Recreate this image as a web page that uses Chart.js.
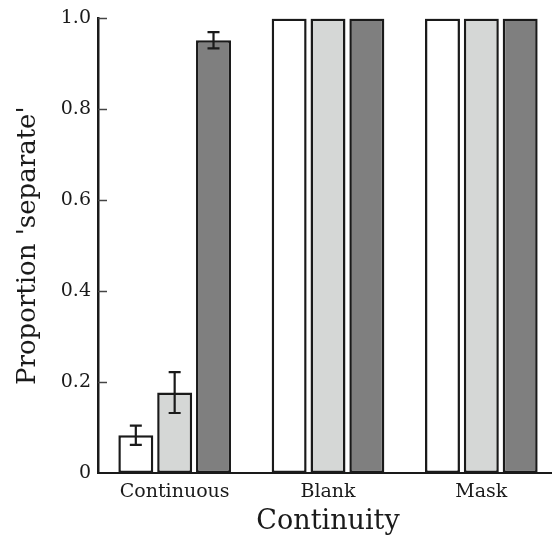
<!DOCTYPE html>
<html>
<head>
<meta charset="utf-8">
<script src="https://cdn.jsdelivr.net/npm/chart.js@4"></script>
<style>
  html, body { margin: 0; padding: 0; background: #fff; overflow: hidden; }
  #wrap { position: relative; width: 558px; height: 538px; }
</style>
</head>
<body>
<div id="wrap"><canvas id="c"></canvas></div>
<script>
// Continuity conditions and the proportion of 'separate' responses
const categories = ['Continuous', 'Blank', 'Mask'];
const seriesA = [0.083, 1.0, 1.0];
const seriesB = [0.177, 1.0, 1.0];
const seriesC = [0.952, 1.0, 1.0];
// error bar half-widths (standard error)
const errA = [0.021, null, null];
const errB = [0.045, null, null];
const errC = [0.018, null, null];
const yTicks = [0, 0.2, 0.4, 0.6, 0.8, 1.0];

const fontFamily = '"DejaVu Serif", serif';

const errorBars = {
  id: 'errorBars',
  afterDatasetsDraw(chart) {
    const ctx = chart.ctx;
    const y = chart.scales.y;
    const errs = [errA, errB, errC];
    ctx.save();
    ctx.strokeStyle = '#1a1a1a';
    ctx.lineWidth = 2.2;
    chart.data.datasets.forEach((ds, di) => {
      const meta = chart.getDatasetMeta(di);
      meta.data.forEach((bar, i) => {
        const e = errs[di][i];
        if (e == null) return;
        const v = ds.data[i];
        const x = bar.x;
        const yt = y.getPixelForValue(v + e);
        const yb = y.getPixelForValue(v - e);
        const cap = 6;
        ctx.beginPath();
        ctx.moveTo(x, yt); ctx.lineTo(x, yb);
        ctx.moveTo(x - cap, yt); ctx.lineTo(x + cap, yt);
        ctx.moveTo(x - cap, yb); ctx.lineTo(x + cap, yb);
        ctx.stroke();
      });
    });
    ctx.restore();
  }
};

// short inward tick marks on the value axis
const innerTicks = {
  id: 'innerTicks',
  afterDraw(chart) {
    const ctx = chart.ctx;
    const y = chart.scales.y;
    const left = chart.chartArea.left;
    ctx.save();
    ctx.strokeStyle = '#444';
    ctx.lineWidth = 1.5;
    yTicks.forEach(t => {
      if (t === 0) return;
      const py = Math.round(y.getPixelForValue(t)) + 0.5;
      ctx.beginPath();
      ctx.moveTo(left, py);
      ctx.lineTo(left + 9, py);
      ctx.stroke();
    });
    ctx.restore();
  }
};

const barStyle = { borderColor: '#1a1a1a', borderWidth: 2.5, borderSkipped: false };

new Chart(document.getElementById('c'), {
  type: 'bar',
  data: {
    labels: categories,
    datasets: [
      Object.assign({ data: seriesA, backgroundColor: '#ffffff' }, barStyle),
      Object.assign({ data: seriesB, backgroundColor: '#d5d7d6' }, barStyle),
      Object.assign({ data: seriesC, backgroundColor: '#7f7f7f' }, barStyle)
    ]
  },
  options: {
    responsive: true,
    maintainAspectRatio: false,
    animation: false,
    datasets: { bar: { categoryPercentage: 0.76, barPercentage: 0.9 } },
    layout: { padding: { top: 18, right: 0, left: 0, bottom: 0 } },
    plugins: { legend: { display: false }, tooltip: { enabled: false } },
    scales: {
      x: {
        offset: true,
        grid: { display: false, drawTicks: false },
        border: { display: true, color: '#1a1a1a', width: 2 },
        ticks: { color: '#1a1a1a', padding: 8, font: { family: fontFamily, size: 19 } },
        title: { display: true, text: 'Continuity', color: '#1a1a1a', padding: { top: 0, bottom: 0 },
                 font: { family: fontFamily, size: 27 } },
        afterFit(scale) { scale.height = 65; }
      },
      y: {
        min: 0, max: 1,
        afterBuildTicks(scale) { scale.ticks = yTicks.map(v => ({ value: v })); },
        grid: { display: false, drawTicks: false },
        border: { display: true, color: '#1a1a1a', width: 2.5 },
        ticks: {
          color: '#1a1a1a', padding: 7,
          font: { family: fontFamily, size: 19 },
          callback: v => v === 0 ? '0' : v.toFixed(1)
        },
        title: { display: true, text: "Proportion 'separate'", color: '#1a1a1a', padding: { top: 13, bottom: 0 },
                 font: { family: fontFamily, size: 26 } },
        afterFit(scale) { scale.width = 98; }
      }
    }
  },
  plugins: [errorBars, innerTicks]
});
</script>
</body>
</html>
